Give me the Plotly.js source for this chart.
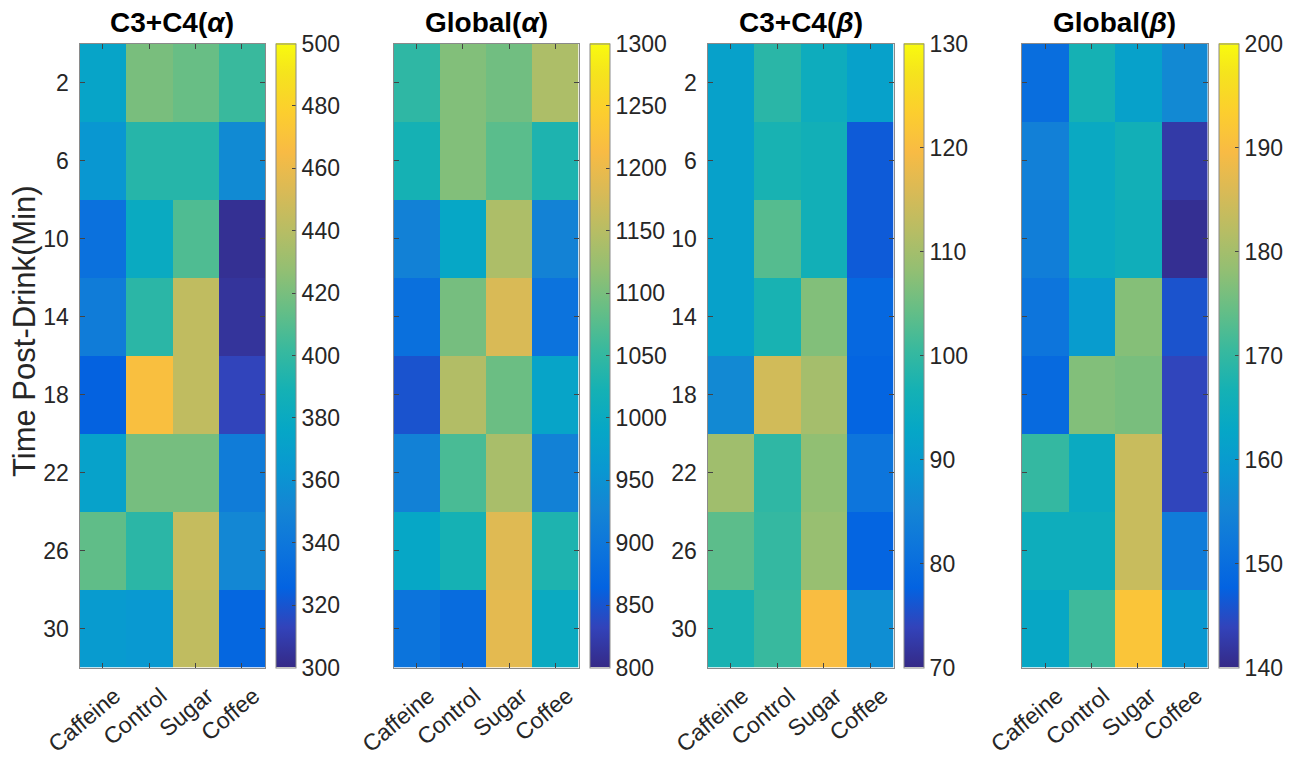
<!DOCTYPE html>
<html>
<head>
<meta charset="utf-8">
<script src="https://cdn.plot.ly/plotly-3.0.1.min.js"></script>
<style>html,body{margin:0;padding:0;background:#fff;}#chart{width:1302px;height:759px;}</style>
</head>
<body>
<div id="chart"></div>
<script>
// Data
const drinks = ["Caffeine", "Control", "Sugar", "Coffee"];
const times = [2, 6, 10, 14, 18, 22, 26, 30];

// rows = times, columns = drinks
const c34Alpha = [
  [374, 420, 415, 402],
  [363, 395, 395, 354],
  [335, 380, 408, 303],
  [344, 397, 443, 305],
  [325, 468, 443, 313],
  [372, 419, 419, 344],
  [413, 397, 445, 352],
  [366, 364, 443, 328]
];
const globalAlpha = [
  [1046, 1106, 1094, 1141],
  [1022, 1106, 1078, 1030],
  [919, 990, 1141, 922],
  [887, 1098, 1181, 891],
  [848, 1145, 1090, 984],
  [919, 1066, 1137, 919],
  [990, 1022, 1187, 1030],
  [893, 880, 1192, 1000]
];
const c34Beta = [
  [91.4, 99.0, 94.8, 91.4],
  [91.4, 97.0, 96.0, 76.7],
  [91.4, 102.9, 96.0, 76.7],
  [91.4, 97.0, 106.7, 78.6],
  [86.0, 114.8, 110.0, 78.0],
  [109.5, 99.5, 108.0, 81.4],
  [103.5, 100.0, 108.7, 78.0],
  [97.0, 100.5, 120.0, 87.0]
];
const globalBeta = [
  [150.0, 166.7, 161.4, 156.0],
  [154.0, 163.8, 166.0, 142.4],
  [153.5, 164.0, 165.5, 140.8],
  [151.5, 160.0, 177.0, 145.7],
  [149.0, 176.7, 176.0, 144.0],
  [170.0, 164.0, 183.8, 144.0],
  [165.0, 165.0, 183.8, 153.0],
  [163.0, 171.0, 191.5, 159.0]
];
const panelTitles = ["<b>C3+C4(<i>α</i>)</b>", "<b>Global(<i>α</i>)</b>", "<b>C3+C4(<i>β</i>)</b>", "<b>Global(<i>β</i>)</b>"];
const zRanges = [[300, 500], [800, 1300], [70, 130], [140, 200]];
const cbTicks = [
  [300, 320, 340, 360, 380, 400, 420, 440, 460, 480, 500],
  [800, 850, 900, 950, 1000, 1050, 1100, 1150, 1200, 1250, 1300],
  [70, 80, 90, 100, 110, 120, 130],
  [140, 150, 160, 170, 180, 190, 200]
];
const yAxisTitle = "Time Post-Drink(Min)";

// Parula colormap (sampled from 64-entry table)
const parulaRGB = [
  [53,42,135],[50,67,186],[3,99,225],[13,117,220],[20,133,212],[9,152,209],
  [6,167,198],[21,177,180],[56,185,158],[101,190,134],[146,191,115],[183,189,100],
  [217,186,86],[248,187,68],[252,206,46],[245,228,29],[249,251,14]
];
const parulaIdx = [0,4,8,12,16,20,24,28,32,36,40,44,48,52,56,60,63];
const parula = parulaRGB.map((c, i) => [parulaIdx[i] / 63, `rgb(${c[0]},${c[1]},${c[2]})`]);

const W = 1302, H = 759;
const plotLeft = [79.5, 393.5, 707.5, 1022];
const plotRight = [265, 578.5, 893.5, 1207.5];
const cbLeft = [276, 589.5, 904, 1218.5];
const plotTop = 43.5, plotBottom = 667.5;
const FONT = "Liberation Sans, Arial, Helvetica, sans-serif";
const TICK = 23;

const datasets = [c34Alpha, globalAlpha, c34Beta, globalBeta];
const traces = [];
const layout = {
  width: W, height: H,
  margin: {l: 0, r: 0, t: 0, b: 0},
  paper_bgcolor: "#fff", plot_bgcolor: "#fff",
  font: {family: FONT, color: "#262626", size: TICK},
  showlegend: false,
  annotations: []
};

for (let p = 0; p < 4; p++) {
  const sfx = p === 0 ? "" : String(p + 1);
  traces.push({
    type: "heatmap",
    x: drinks, y: times, z: datasets[p],
    xaxis: "x" + sfx, yaxis: "y" + sfx,
    colorscale: parula, zmin: zRanges[p][0], zmax: zRanges[p][1],
    xgap: 0, ygap: 0,
    colorbar: {
      x: cbLeft[p] / W, xanchor: "left", xref: "paper",
      y: 1 - ((plotTop + plotBottom) / 2) / H, yanchor: "middle",
      len: plotBottom - plotTop, lenmode: "pixels",
      thickness: 20, thicknessmode: "pixels",
      xpad: 0, ypad: 0,
      outlinewidth: 1, outlinecolor: "#8a8a8a",
      tickmode: "array", tickvals: cbTicks[p],
      ticks: "inside", ticklen: 4, tickcolor: "#444", tickwidth: 1,
      tickfont: {size: TICK, color: "#262626", family: FONT}
    }
  });
  layout["xaxis" + sfx] = {
    domain: [plotLeft[p] / W, plotRight[p] / W],
    anchor: "y" + sfx,
    type: "category",
    tickangle: -40,
    ticks: "inside", ticklen: 5, tickcolor: "#444",
    showline: true, linecolor: "#8a8a8a", linewidth: 1, mirror: "ticks",
    showgrid: false, zeroline: false,
    tickfont: {size: TICK, color: "#262626"},
    ticklabelstandoff: 5,
    ticklabelshift: 12,
    fixedrange: true
  };
  layout["yaxis" + sfx] = {
    domain: [1 - plotBottom / H, 1 - plotTop / H],
    anchor: "x" + sfx,
    range: [32, 0],
    tickmode: "array", tickvals: times,
    ticks: "inside", ticklen: 5, tickcolor: "#444",
    showticklabels: p === 0 || p === 2,
    showline: true, linecolor: "#8a8a8a", linewidth: 1, mirror: "ticks",
    showgrid: false, zeroline: false,
    tickfont: {size: TICK, color: "#262626"},
    ticklabelstandoff: 5,
    fixedrange: true
  };
  layout.annotations.push({
    text: panelTitles[p], xref: "paper", yref: "paper",
    x: ((plotLeft[p] + plotRight[p]) / 2) / W, y: 1 - 22 / H,
    xanchor: "center", yanchor: "middle", showarrow: false,
    font: {size: 28, color: "#000", family: FONT}
  });
}
// y-axis title of the first panel
layout.annotations.push({
  text: yAxisTitle, xref: "paper", yref: "paper",
  x: 24 / W, y: 1 - 331 / H, xanchor: "center", yanchor: "middle",
  textangle: -90, showarrow: false,
  font: {size: 31, color: "#262626", family: FONT}
});

Plotly.newPlot("chart", traces, layout, {displayModeBar: false, staticPlot: true});
</script>
</body>
</html>
